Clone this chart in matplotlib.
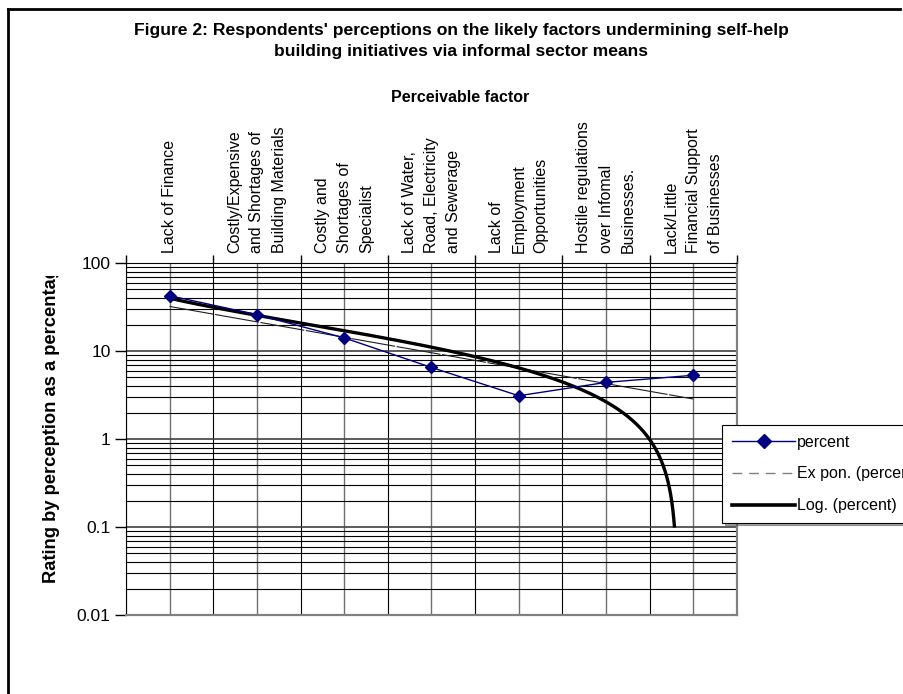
import numpy as np
import matplotlib
matplotlib.use('Agg')
from matplotlib import pyplot as plt
from matplotlib.lines import Line2D
from matplotlib.ticker import FixedLocator, FixedFormatter, NullFormatter
from matplotlib.transforms import Bbox, TransformedBbox

# data
factors = ['Lack of Finance',
           'Costly/Expensive\nand Shortages of\nBuilding Materials',
           'Costly and\nShortages of\nSpecialist',
           'Lack of Water,\nRoad, Electricity\nand Sewerage',
           'Lack of\nEmployment\nOpportunities',
           'Hostile regulations\nover Infomal\nBusinesses.',
           'Lack/Little\nFinancial Support\nof Businesses']
percent = [42.5, 25.9, 14.1, 6.5, 3.1, 4.4, 5.3]
ytick_vals = [0.01, 0.1, 1, 10, 100]
ytick_labels = ['0.01', '0.1', '1', '10', '100']

narrow = ['Liberation Sans Narrow', 'Liberation Sans', 'DejaVu Sans']
plt.rcParams['font.family'] = ['Liberation Sans', 'DejaVu Sans']

W, H = 904, 694
fig = plt.figure(figsize=(W / 100, H / 100), dpi=100)
ax = fig.add_axes([126 / W, 1 - 615 / H, (737 - 126) / W, (615 - 263) / H])

x = np.arange(1, len(percent) + 1)
y = np.array(percent)

# trendlines, fitted like excel does
b, ln_a = np.polyfit(x, np.log(y), 1)
xe = np.linspace(1, 7, 100)
ye = np.exp(ln_a + b * xe)

c, d = np.polyfit(np.log(x), y, 1)
xl = np.linspace(1, 7, 3000)
yl = c * np.log(xl) + d
keep = yl > 0.098
xl, yl = xl[keep], yl[keep]

ax.plot(xe, ye, color='#202020', lw=0.8, dashes=(40, 1.5), zorder=3)
ax.plot(xl, yl, color='black', lw=2.4, zorder=4, solid_capstyle='butt')
ax.plot(x, y, color='#000080', lw=1.0, marker='D', ms=6, zorder=5)

ax.set_yscale('log')
ax.set_ylim(0.01, 100)
ax.set_xlim(0.5, 7.5)

ax.yaxis.set_major_locator(FixedLocator(ytick_vals))
ax.yaxis.set_major_formatter(FixedFormatter(ytick_labels))
minors = [m * 10.0 ** e for e in range(-2, 2) for m in range(2, 10)]
ax.yaxis.set_minor_locator(FixedLocator(minors))
ax.yaxis.set_minor_formatter(NullFormatter())
ax.tick_params(axis='y', which='major', length=8, width=1, direction='out',
               pad=3, labelsize=12.5)
ax.tick_params(axis='y', which='minor', length=0)

ax.xaxis.set_ticks_position('top')
ax.set_xticks(x)
ax.set_xticklabels(factors)
ax.xaxis.set_minor_locator(FixedLocator(np.arange(0.5, 8, 1)))
ax.tick_params(axis='x', which='major', length=0, pad=7, labelsize=11.5,
               labelrotation=90)
ax.tick_params(axis='x', which='minor', length=6, width=1, direction='out')
for lbl in ax.get_xticklabels():
    lbl.set_multialignment('left')
    lbl.set_linespacing(1.6)

ax.grid(True, which='major', axis='x', color='#707070', lw=1.0)
ax.grid(True, which='minor', axis='x', color='black', lw=0.8)
ax.grid(True, which='major', axis='y', color='#404040', lw=1.2)
ax.grid(True, which='minor', axis='y', color='black', lw=0.8)
ax.set_axisbelow(True)

ax.spines['left'].set_color('black')
ax.spines['top'].set_color('black')
for s in ['right', 'bottom']:
    ax.spines[s].set_color('#808080')
    ax.spines[s].set_linewidth(1.6)

# titles
fig.text(461 / W, 1 - 41 / H,
         "Figure 2: Respondents' perceptions on the likely factors undermining self-help\n"
         "building initiatives via informal sector means",
         ha='center', va='center', fontsize=12.6, fontweight='bold',
         family=narrow, linespacing=1.45)
fig.text(460 / W, 1 - 97 / H, 'Perceivable factor', ha='center', va='center',
         fontsize=11.5, fontweight='bold', family=narrow)

ylab = fig.text(52 / W, 1 - 583 / H, 'Rating by perception as a percentage',
                rotation=90, ha='center', va='bottom', fontsize=13.2,
                fontweight='bold')
ylab.set_clip_box(TransformedBbox(Bbox([[0, 0], [1, 1 - 276 / H]]), fig.transFigure))
ylab.set_clip_on(True)

# legend
handles = [Line2D([], [], color='#000080', lw=1.0, marker='D', ms=7),
           Line2D([], [], color='#808080', lw=1.0, dashes=(7, 5)),
           Line2D([], [], color='black', lw=2.6)]
leg = fig.legend(handles, ['percent', 'Ex pon. (percent)', 'Log. (percent)'],
                 loc='upper left', bbox_to_anchor=(722 / W, 1 - 425 / H),
                 bbox_transform=fig.transFigure, fancybox=False, shadow=True,
                 edgecolor='black', framealpha=1, borderpad=0.6,
                 borderaxespad=0, labelspacing=1.05, handlelength=4.0,
                 handletextpad=0.1, prop={'family': narrow, 'size': 11.5})
leg.get_frame().set_linewidth(0.8)

# outer border of the chart area (top and left visible)
fig.add_artist(Line2D([8 / W, 8 / W], [0, 1 - 9 / H], color='black', lw=2,
                      transform=fig.transFigure))
fig.add_artist(Line2D([8 / W, 900 / W], [1 - 9 / H, 1 - 9 / H], color='black',
                      lw=2, transform=fig.transFigure))

fig.savefig('out.png', dpi=100)
